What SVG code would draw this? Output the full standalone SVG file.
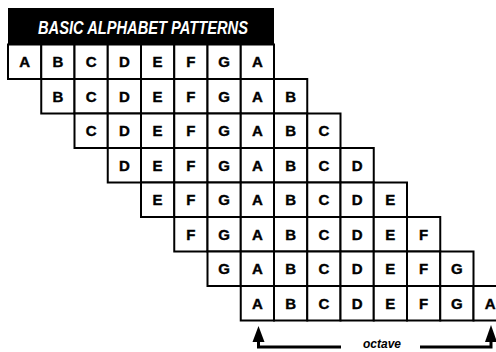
<svg xmlns="http://www.w3.org/2000/svg" width="496" height="352" viewBox="0 0 496 352">
<style>
.c{fill:#fff;stroke:#000;stroke-width:2}
.l{font-family:"Liberation Sans",Arial,sans-serif;font-weight:bold;font-size:15px;text-anchor:middle;fill:#000;stroke:#000;stroke-width:0.4}
.h{font-family:"Liberation Sans",Arial,sans-serif;font-weight:bold;font-style:italic;font-size:17.5px;fill:#fff;text-anchor:middle}
.ln{fill:none;stroke:#000;stroke-width:3}
</style>
<rect width="496" height="352" fill="#fff"/>
<g id="header">
<rect x="8" y="8" width="266" height="37" fill="#000"/>
<text class="h" x="143" y="33.5" textLength="210" lengthAdjust="spacingAndGlyphs">BASIC ALPHABET PATTERNS</text>
</g>
<g id="row0">
<g id="r0c0" transform="translate(8,44.5)"><rect class="c" width="33.25" height="34.5"/><text class="l" x="16.6" y="22.7">A</text></g>
<g id="r0c1" transform="translate(41.25,44.5)"><rect class="c" width="33.25" height="34.5"/><text class="l" x="16.6" y="22.7">B</text></g>
<g id="r0c2" transform="translate(74.5,44.5)"><rect class="c" width="33.25" height="34.5"/><text class="l" x="16.6" y="22.7">C</text></g>
<g id="r0c3" transform="translate(107.75,44.5)"><rect class="c" width="33.25" height="34.5"/><text class="l" x="16.6" y="22.7">D</text></g>
<g id="r0c4" transform="translate(141,44.5)"><rect class="c" width="33.25" height="34.5"/><text class="l" x="16.6" y="22.7">E</text></g>
<g id="r0c5" transform="translate(174.25,44.5)"><rect class="c" width="33.25" height="34.5"/><text class="l" x="16.6" y="22.7">F</text></g>
<g id="r0c6" transform="translate(207.5,44.5)"><rect class="c" width="33.25" height="34.5"/><text class="l" x="16.6" y="22.7">G</text></g>
<g id="r0c7" transform="translate(240.75,44.5)"><rect class="c" width="33.25" height="34.5"/><text class="l" x="16.6" y="22.7">A</text></g>
</g>
<g id="row1">
<g id="r1c0" transform="translate(41.25,79)"><rect class="c" width="33.25" height="34.5"/><text class="l" x="16.6" y="22.7">B</text></g>
<g id="r1c1" transform="translate(74.5,79)"><rect class="c" width="33.25" height="34.5"/><text class="l" x="16.6" y="22.7">C</text></g>
<g id="r1c2" transform="translate(107.75,79)"><rect class="c" width="33.25" height="34.5"/><text class="l" x="16.6" y="22.7">D</text></g>
<g id="r1c3" transform="translate(141,79)"><rect class="c" width="33.25" height="34.5"/><text class="l" x="16.6" y="22.7">E</text></g>
<g id="r1c4" transform="translate(174.25,79)"><rect class="c" width="33.25" height="34.5"/><text class="l" x="16.6" y="22.7">F</text></g>
<g id="r1c5" transform="translate(207.5,79)"><rect class="c" width="33.25" height="34.5"/><text class="l" x="16.6" y="22.7">G</text></g>
<g id="r1c6" transform="translate(240.75,79)"><rect class="c" width="33.25" height="34.5"/><text class="l" x="16.6" y="22.7">A</text></g>
<g id="r1c7" transform="translate(274,79)"><rect class="c" width="33.25" height="34.5"/><text class="l" x="16.6" y="22.7">B</text></g>
</g>
<g id="row2">
<g id="r2c0" transform="translate(74.5,113.5)"><rect class="c" width="33.25" height="34.5"/><text class="l" x="16.6" y="22.7">C</text></g>
<g id="r2c1" transform="translate(107.75,113.5)"><rect class="c" width="33.25" height="34.5"/><text class="l" x="16.6" y="22.7">D</text></g>
<g id="r2c2" transform="translate(141,113.5)"><rect class="c" width="33.25" height="34.5"/><text class="l" x="16.6" y="22.7">E</text></g>
<g id="r2c3" transform="translate(174.25,113.5)"><rect class="c" width="33.25" height="34.5"/><text class="l" x="16.6" y="22.7">F</text></g>
<g id="r2c4" transform="translate(207.5,113.5)"><rect class="c" width="33.25" height="34.5"/><text class="l" x="16.6" y="22.7">G</text></g>
<g id="r2c5" transform="translate(240.75,113.5)"><rect class="c" width="33.25" height="34.5"/><text class="l" x="16.6" y="22.7">A</text></g>
<g id="r2c6" transform="translate(274,113.5)"><rect class="c" width="33.25" height="34.5"/><text class="l" x="16.6" y="22.7">B</text></g>
<g id="r2c7" transform="translate(307.25,113.5)"><rect class="c" width="33.25" height="34.5"/><text class="l" x="16.6" y="22.7">C</text></g>
</g>
<g id="row3">
<g id="r3c0" transform="translate(107.75,148)"><rect class="c" width="33.25" height="34.5"/><text class="l" x="16.6" y="22.7">D</text></g>
<g id="r3c1" transform="translate(141,148)"><rect class="c" width="33.25" height="34.5"/><text class="l" x="16.6" y="22.7">E</text></g>
<g id="r3c2" transform="translate(174.25,148)"><rect class="c" width="33.25" height="34.5"/><text class="l" x="16.6" y="22.7">F</text></g>
<g id="r3c3" transform="translate(207.5,148)"><rect class="c" width="33.25" height="34.5"/><text class="l" x="16.6" y="22.7">G</text></g>
<g id="r3c4" transform="translate(240.75,148)"><rect class="c" width="33.25" height="34.5"/><text class="l" x="16.6" y="22.7">A</text></g>
<g id="r3c5" transform="translate(274,148)"><rect class="c" width="33.25" height="34.5"/><text class="l" x="16.6" y="22.7">B</text></g>
<g id="r3c6" transform="translate(307.25,148)"><rect class="c" width="33.25" height="34.5"/><text class="l" x="16.6" y="22.7">C</text></g>
<g id="r3c7" transform="translate(340.5,148)"><rect class="c" width="33.25" height="34.5"/><text class="l" x="16.6" y="22.7">D</text></g>
</g>
<g id="row4">
<g id="r4c0" transform="translate(141,182.5)"><rect class="c" width="33.25" height="34.5"/><text class="l" x="16.6" y="22.7">E</text></g>
<g id="r4c1" transform="translate(174.25,182.5)"><rect class="c" width="33.25" height="34.5"/><text class="l" x="16.6" y="22.7">F</text></g>
<g id="r4c2" transform="translate(207.5,182.5)"><rect class="c" width="33.25" height="34.5"/><text class="l" x="16.6" y="22.7">G</text></g>
<g id="r4c3" transform="translate(240.75,182.5)"><rect class="c" width="33.25" height="34.5"/><text class="l" x="16.6" y="22.7">A</text></g>
<g id="r4c4" transform="translate(274,182.5)"><rect class="c" width="33.25" height="34.5"/><text class="l" x="16.6" y="22.7">B</text></g>
<g id="r4c5" transform="translate(307.25,182.5)"><rect class="c" width="33.25" height="34.5"/><text class="l" x="16.6" y="22.7">C</text></g>
<g id="r4c6" transform="translate(340.5,182.5)"><rect class="c" width="33.25" height="34.5"/><text class="l" x="16.6" y="22.7">D</text></g>
<g id="r4c7" transform="translate(373.75,182.5)"><rect class="c" width="33.25" height="34.5"/><text class="l" x="16.6" y="22.7">E</text></g>
</g>
<g id="row5">
<g id="r5c0" transform="translate(174.25,217)"><rect class="c" width="33.25" height="34.5"/><text class="l" x="16.6" y="22.7">F</text></g>
<g id="r5c1" transform="translate(207.5,217)"><rect class="c" width="33.25" height="34.5"/><text class="l" x="16.6" y="22.7">G</text></g>
<g id="r5c2" transform="translate(240.75,217)"><rect class="c" width="33.25" height="34.5"/><text class="l" x="16.6" y="22.7">A</text></g>
<g id="r5c3" transform="translate(274,217)"><rect class="c" width="33.25" height="34.5"/><text class="l" x="16.6" y="22.7">B</text></g>
<g id="r5c4" transform="translate(307.25,217)"><rect class="c" width="33.25" height="34.5"/><text class="l" x="16.6" y="22.7">C</text></g>
<g id="r5c5" transform="translate(340.5,217)"><rect class="c" width="33.25" height="34.5"/><text class="l" x="16.6" y="22.7">D</text></g>
<g id="r5c6" transform="translate(373.75,217)"><rect class="c" width="33.25" height="34.5"/><text class="l" x="16.6" y="22.7">E</text></g>
<g id="r5c7" transform="translate(407,217)"><rect class="c" width="33.25" height="34.5"/><text class="l" x="16.6" y="22.7">F</text></g>
</g>
<g id="row6">
<g id="r6c0" transform="translate(207.5,251.5)"><rect class="c" width="33.25" height="34.5"/><text class="l" x="16.6" y="22.7">G</text></g>
<g id="r6c1" transform="translate(240.75,251.5)"><rect class="c" width="33.25" height="34.5"/><text class="l" x="16.6" y="22.7">A</text></g>
<g id="r6c2" transform="translate(274,251.5)"><rect class="c" width="33.25" height="34.5"/><text class="l" x="16.6" y="22.7">B</text></g>
<g id="r6c3" transform="translate(307.25,251.5)"><rect class="c" width="33.25" height="34.5"/><text class="l" x="16.6" y="22.7">C</text></g>
<g id="r6c4" transform="translate(340.5,251.5)"><rect class="c" width="33.25" height="34.5"/><text class="l" x="16.6" y="22.7">D</text></g>
<g id="r6c5" transform="translate(373.75,251.5)"><rect class="c" width="33.25" height="34.5"/><text class="l" x="16.6" y="22.7">E</text></g>
<g id="r6c6" transform="translate(407,251.5)"><rect class="c" width="33.25" height="34.5"/><text class="l" x="16.6" y="22.7">F</text></g>
<g id="r6c7" transform="translate(440.25,251.5)"><rect class="c" width="33.25" height="34.5"/><text class="l" x="16.6" y="22.7">G</text></g>
</g>
<g id="row7">
<g id="r7c0" transform="translate(240.75,286)"><rect class="c" width="33.25" height="34.5"/><text class="l" x="16.6" y="22.7">A</text></g>
<g id="r7c1" transform="translate(274,286)"><rect class="c" width="33.25" height="34.5"/><text class="l" x="16.6" y="22.7">B</text></g>
<g id="r7c2" transform="translate(307.25,286)"><rect class="c" width="33.25" height="34.5"/><text class="l" x="16.6" y="22.7">C</text></g>
<g id="r7c3" transform="translate(340.5,286)"><rect class="c" width="33.25" height="34.5"/><text class="l" x="16.6" y="22.7">D</text></g>
<g id="r7c4" transform="translate(373.75,286)"><rect class="c" width="33.25" height="34.5"/><text class="l" x="16.6" y="22.7">E</text></g>
<g id="r7c5" transform="translate(407,286)"><rect class="c" width="33.25" height="34.5"/><text class="l" x="16.6" y="22.7">F</text></g>
<g id="r7c6" transform="translate(440.25,286)"><rect class="c" width="33.25" height="34.5"/><text class="l" x="16.6" y="22.7">G</text></g>
<g id="r7c7" transform="translate(473.5,286)"><rect class="c" width="33.25" height="34.5"/><text class="l" x="16.6" y="22.7">A</text></g>
</g>
<g id="connectors">
<path class="ln" d="M258.5 340 V347 H341"/>
<polygon points="252.5,342 258.5,326 264.5,342" fill="#000"/>
<path class="ln" d="M420 347 H491 V340"/>
<polygon points="485,342 491,325 497,342" fill="#000"/>
<text x="382" y="347.5" font-family="Liberation Sans, Arial, sans-serif" font-weight="bold" font-style="italic" font-size="12" text-anchor="middle" fill="#000">octave</text>
</g>
</svg>
